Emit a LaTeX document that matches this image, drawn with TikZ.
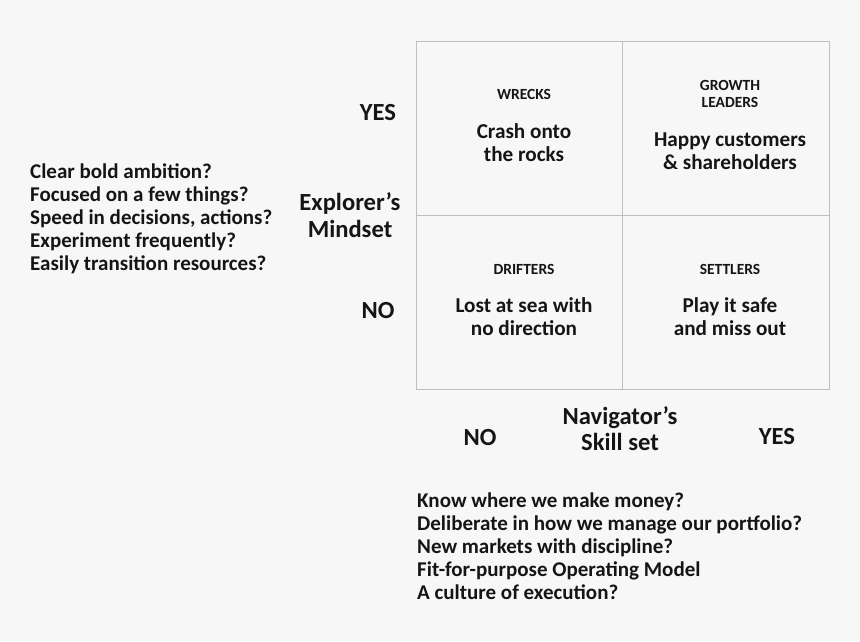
\documentclass[tikz,border=0pt]{standalone}
\usepackage{fontspec}
\setmainfont{Carlito}
\definecolor{bg}{HTML}{F7F7F7}
\definecolor{gridc}{HTML}{BFBFBF}
\definecolor{ink}{HTML}{151515}
\begin{document}
\begin{tikzpicture}[x=1pt,y=-1pt,
  every node/.style={text=ink,font=\bfseries,inner sep=0pt},
  celltitle/.style={font=\bfseries\fontsize{15.5}{17}\selectfont,align=center},
  cellbody/.style={font=\bfseries\fontsize{21.2}{23}\selectfont,align=center},
  axislabel/.style={font=\bfseries\fontsize{24.6}{26.5}\selectfont,align=center},
  listtext/.style={font=\bfseries\fontsize{21}{23}\selectfont,align=left,anchor=west}]
\fill[bg] (0,0) rectangle (860,641);
\useasboundingbox (0,0) rectangle (860,641);
\draw[gridc,line width=0.9pt] (416,41) rectangle (829,389);
\draw[gridc,line width=0.9pt] (622,41) -- (622,389);
\draw[gridc,line width=0.9pt] (416,215) -- (829,215);
% cells
\node[celltitle] (wr) at (524,94) {WRECKS};
\node[cellbody] (wrb) at (524,142.5) {Crash onto\\the rocks};
\node[celltitle] (gl) at (730,93.5) {GROWTH\\LEADERS};
\node[cellbody] (glb) at (730,151.5) {Happy customers\\\& shareholders};
\node[celltitle] (dr) at (524,269) {DRIFTERS};
\node[cellbody] (drb) at (524,316.5) {Lost at sea with\\no direction};
\node[celltitle] (se) at (730,269) {SETTLERS};
\node[cellbody] (seb) at (730,316.5) {Play it safe\\and miss out};
% vertical axis
\node[axislabel] (yes1) at (378,113) {YES};
\node[axislabel] (expl) at (350,215) {Explorer’s\\Mindset};
\node[axislabel] (no1) at (378,311) {NO};
% horizontal axis
\node[axislabel] (no2) at (480,438) {NO};
\node[axislabel] (nav) at (620,428.5) {Navigator’s\\Skill set};
\node[axislabel] (yes2) at (777,437) {YES};
% lists
\node[listtext] (l1) at (30,219) {Clear bold ambition?\\Focused on a few things?\\Speed in decisions, actions?\\Experiment frequently?\\Easily transition resources?};
\node[listtext] (l2) at (417,546) {Know where we make money?\\Deliberate in how we manage our portfolio?\\New markets with discipline?\\Fit-for-purpose Operating Model\\A culture of execution?};
\end{tikzpicture}
\end{document}
